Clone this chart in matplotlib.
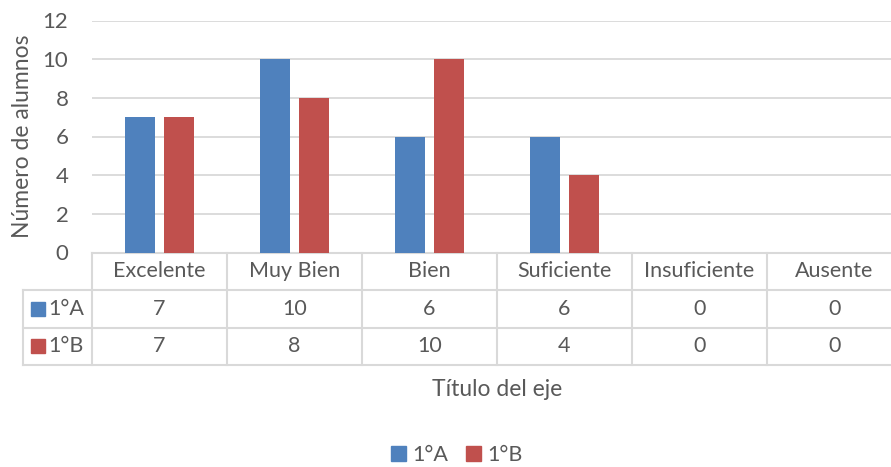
import matplotlib
matplotlib.use("Agg")
import matplotlib.pyplot as plt
from matplotlib.patches import Patch, Rectangle
from matplotlib.transforms import blended_transform_factory

# Data
categories = ["Excelente", "Muy Bien", "Bien", "Suficiente", "Insuficiente", "Ausente"]
series_names = ["1°A", "1°B"]
values_1a = [7, 10, 6, 6, 0, 0]
values_1b = [7, 8, 10, 4, 0, 0]
colors = ["#4F81BD", "#C0504D"]

plt.rcParams["font.family"] = ["Lato", "DejaVu Sans"]
text_color = "#595959"
grid_color = "#D9D9D9"
fs = 15.5

W, H = 891, 467
fig = plt.figure(figsize=(W / 100, H / 100), dpi=100)
# plot area runs a little past the right edge of the picture, as in the reference
left, right, top, bottom = 92, 902, 20.5, 252.5
ax = fig.add_axes([left / W, 1 - bottom / H, (right - left) / W, (bottom - top) / H])

x = list(range(len(categories)))
bw = 0.222
off = 0.141
ax.bar([i - off for i in x], values_1a, width=bw, color=colors[0], zorder=3)
ax.bar([i + off for i in x], values_1b, width=bw, color=colors[1], zorder=3)

ax.set_xlim(-0.5, len(categories) - 0.5)
ax.set_ylim(0, 12)
ax.set_yticks(range(0, 13, 2))
ax.set_xticks([])
ax.yaxis.grid(True, color=grid_color, linewidth=1.3)
ax.set_axisbelow(True)
for s in ["top", "right", "left"]:
    ax.spines[s].set_visible(False)
ax.spines["bottom"].set_color(grid_color)
ax.spines["bottom"].set_linewidth(1.5)
ax.tick_params(axis="y", length=0, labelsize=fs + 0.5, labelcolor=text_color, pad=17)
ax.set_ylabel("Número de alumnos", fontsize=fs + 1, color=text_color, labelpad=7)

# data table under the axis
tr = blended_transform_factory(ax.transData, ax.transAxes)
row_h = 37.5 / (bottom - top)
key_left = -0.5 - 69 / 135
n = len(categories)
line_kw = dict(color=grid_color, linewidth=1.5, transform=tr, clip_on=False)

for k in range(1, 4):
    ax.plot([key_left, n - 0.5], [-k * row_h, -k * row_h], **line_kw)
for b in range(n + 1):
    ax.plot([b - 0.5, b - 0.5], [0, -3 * row_h], **line_kw)
ax.plot([key_left, key_left], [-row_h, -3 * row_h], **line_kw)

for i, c in enumerate(categories):
    ax.text(i, -0.5 * row_h, c, ha="center", va="center", fontsize=fs,
            color=text_color, transform=tr)
for r, vals in enumerate([values_1a, values_1b]):
    yc = -(r + 1.5) * row_h
    for i, v in enumerate(vals):
        ax.text(i, yc, str(v), ha="center", va="center", fontsize=fs,
                color=text_color, transform=tr)
    ax.add_patch(Rectangle((key_left + 8 / 135, yc - 7 / (bottom - top)),
                           14 / 135, 14 / (bottom - top), color=colors[r],
                           transform=tr, clip_on=False))
    ax.text(key_left + 25 / 135, yc, series_names[r], ha="left", va="center",
            fontsize=fs, color=text_color, transform=tr)

fig.text(497 / W, 1 - 389 / H, "Título del eje", ha="center", va="center",
         fontsize=fs + 1, color=text_color)

handles = [Patch(color=colors[0], label=series_names[0]),
           Patch(color=colors[1], label=series_names[1])]
fig.legend(handles=handles, loc="center", bbox_to_anchor=(457 / W, 1 - 455 / H),
           ncol=2, frameon=False, fontsize=fs, labelcolor=text_color,
           handlelength=0.7, handleheight=0.7, handletextpad=0.3,
           columnspacing=0.8)

fig.savefig("out.png", dpi=100)
